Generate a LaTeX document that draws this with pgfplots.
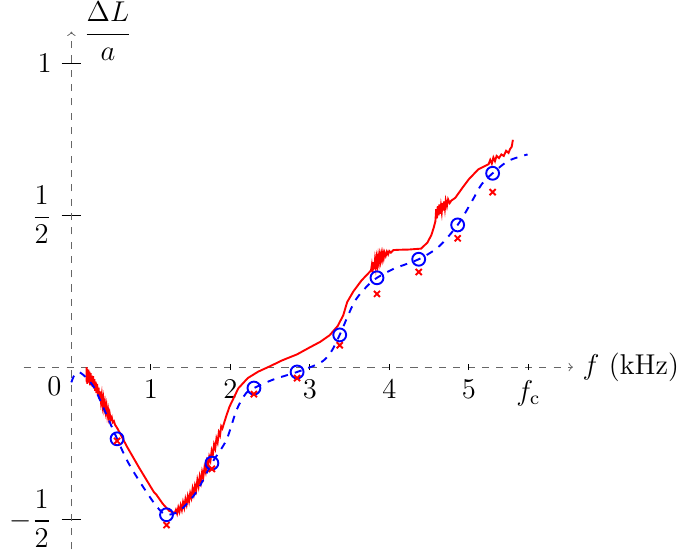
\documentclass[12pt,border=0pt]{standalone}
\usepackage{amsmath}
\usepackage{pgfplots}
\pgfplotsset{compat=1.18}
\begin{document}
\begin{tikzpicture}
\begin{axis}[
  x=33.3pt, y=127.3pt,
  xmin=-0.6, xmax=6.31, ymin=-0.6, ymax=1.104,
  axis lines=middle,
  axis line style={black!60, dashed, ->},
  tick align=center,
  major tick length=8.2pt,
  tick style={black, thin},
  xtick=\empty,
  extra x ticks={1,2,3,4,5,5.75},
  extra x tick labels={$1$,$2$,$3$,$4$,$5$,$f_{\mathrm{c}}$},
  extra x tick style={major tick length=2.6pt},
  ytick={-0.5,0.5,1},
  yticklabels={$-\dfrac{1}{2}$,$\dfrac{1}{2}$,$1$},
  clip=false,
]
% measured response (noisy)
\addplot[red, line width=0.8pt] coordinates {
 (0.190,0.000) (0.193,-0.050) (0.197,-0.005) (0.200,-0.055) (0.205,-0.010)
 (0.210,-0.045) (0.215,-0.008) (0.222,-0.050) (0.228,-0.015) (0.235,-0.060)
 (0.242,-0.020) (0.250,-0.058) (0.258,-0.028) (0.266,-0.065) (0.274,-0.030)
 (0.282,-0.070) (0.290,-0.040) (0.298,-0.078) (0.306,-0.048) (0.315,-0.085)
 (0.324,-0.055) (0.333,-0.092) (0.342,-0.068) (0.352,-0.105) (0.362,-0.080)
 (0.372,-0.112) (0.382,-0.092) (0.392,-0.125) (0.402,-0.105) (0.412,-0.135)
 (0.422,-0.118) (0.432,-0.145) (0.442,-0.128) (0.452,-0.158) (0.462,-0.142)
 (0.472,-0.166) (0.482,-0.152) (0.495,-0.172) (0.508,-0.165) (0.520,-0.182)
 (0.535,-0.178) (0.550,-0.190) (0.575,-0.200) (0.600,-0.212)
 (0.700,-0.262) (0.850,-0.330) (1.000,-0.395) (1.040,-0.412) (1.070,-0.420)
 (1.150,-0.450) (1.230,-0.473) (1.300,-0.480)
 (1.315,-0.470) (1.330,-0.482) (1.345,-0.462) (1.360,-0.476) (1.375,-0.455)
 (1.390,-0.470) (1.405,-0.445) (1.420,-0.462) (1.435,-0.435) (1.450,-0.452)
 (1.465,-0.425) (1.480,-0.442) (1.495,-0.415) (1.510,-0.430) (1.525,-0.400)
 (1.540,-0.418) (1.555,-0.390) (1.570,-0.405) (1.585,-0.372) (1.600,-0.392)
 (1.615,-0.360) (1.630,-0.378) (1.645,-0.345) (1.660,-0.362) (1.675,-0.330)
 (1.690,-0.345) (1.705,-0.312) (1.720,-0.328) (1.735,-0.295) (1.750,-0.308)
 (1.765,-0.275) (1.780,-0.288) (1.795,-0.255) (1.810,-0.268) (1.825,-0.235)
 (1.840,-0.248) (1.855,-0.215) (1.870,-0.225) (1.885,-0.195) (1.900,-0.202)
 (1.950,-0.160) (1.990,-0.130) (2.100,-0.070) (2.220,-0.036) (2.350,-0.015)
 (2.500,0.003) (2.650,0.022) (2.840,0.042) (3.000,0.065) (3.130,0.083)
 (3.250,0.105) (3.350,0.135) (3.420,0.170) (3.470,0.214) (3.550,0.250)
 (3.650,0.285) (3.770,0.318)
 (3.780,0.335) (3.790,0.312) (3.800,0.345) (3.810,0.322) (3.820,0.352)
 (3.830,0.330) (3.840,0.358) (3.850,0.338) (3.860,0.364) (3.870,0.344)
 (3.880,0.368) (3.890,0.350) (3.900,0.372) (3.910,0.356) (3.920,0.375)
 (3.930,0.360) (3.940,0.377) (3.955,0.366) (3.970,0.380) (3.985,0.371)
 (4.000,0.382) (4.020,0.377) (4.050,0.385)
 (4.100,0.386) (4.250,0.387) (4.400,0.390) (4.480,0.410) (4.530,0.435)
 (4.560,0.460) (4.580,0.480)
 (4.590,0.520) (4.600,0.490) (4.610,0.530) (4.620,0.500) (4.630,0.535)
 (4.640,0.505) (4.650,0.530) (4.660,0.510) (4.670,0.540) (4.680,0.515)
 (4.690,0.545) (4.700,0.522) (4.710,0.548) (4.725,0.530) (4.740,0.552)
 (4.760,0.540) (4.780,0.548)
 (4.830,0.557) (4.920,0.590) (5.000,0.618) (5.120,0.651) (5.250,0.668)
 (5.270,0.682) (5.290,0.670) (5.310,0.690) (5.330,0.678) (5.350,0.695)
 (5.380,0.688) (5.410,0.700) (5.440,0.695) (5.470,0.712) (5.500,0.705)
 (5.520,0.718) (5.540,0.725) (5.555,0.748)
};
% model
\addplot[blue, dashed, line width=0.8pt, smooth] coordinates {
 (0,-0.05) (0.04,-0.025) (0.1,-0.017) (0.2,-0.038) (0.3,-0.074)
 (0.46,-0.168) (0.575,-0.236) (0.70,-0.307) (0.85,-0.373) (1.02,-0.44)
 (1.10,-0.467) (1.197,-0.486) (1.36,-0.473) (1.57,-0.412) (1.768,-0.316)
 (1.95,-0.24) (2.08,-0.14) (2.2,-0.085) (2.297,-0.069) (2.54,-0.041)
 (2.84,-0.016) (3.13,0.014) (3.26,0.047) (3.376,0.106) (3.56,0.214)
 (3.73,0.269) (3.845,0.294) (4.06,0.324) (4.37,0.355) (4.62,0.396)
 (4.86,0.468) (5.04,0.546) (5.16,0.601) (5.30,0.638) (5.50,0.679)
 (5.74,0.70)
};
\addplot[blue, only marks, mark=o, mark size=2.7pt, mark options={line width=0.8pt}] coordinates {
 (0.575,-0.236) (1.197,-0.486) (1.768,-0.316) (2.297,-0.069) (2.84,-0.016)
 (3.376,0.106) (3.845,0.294) (4.37,0.355) (4.86,0.468) (5.30,0.638)
};
\addplot[red, only marks, mark=x, mark size=1.8pt, mark options={line width=0.8pt}] coordinates {
 (0.575,-0.243) (1.197,-0.52) (1.768,-0.335) (2.297,-0.089) (2.84,-0.036)
 (3.376,0.072) (3.845,0.241) (4.37,0.313) (4.86,0.424) (5.30,0.576)
};
\node[anchor=north east] at (axis cs:0,0) {$0$};
\node[anchor=west, xshift=1pt, inner ysep=1pt] at (axis cs:0,1.104) {$\dfrac{\Delta L}{a}$};
\node[anchor=west, inner sep=0pt, xshift=3.9pt] at (axis cs:6.31,0) {$f$~(kHz)};
\end{axis}
\end{tikzpicture}
\end{document}
